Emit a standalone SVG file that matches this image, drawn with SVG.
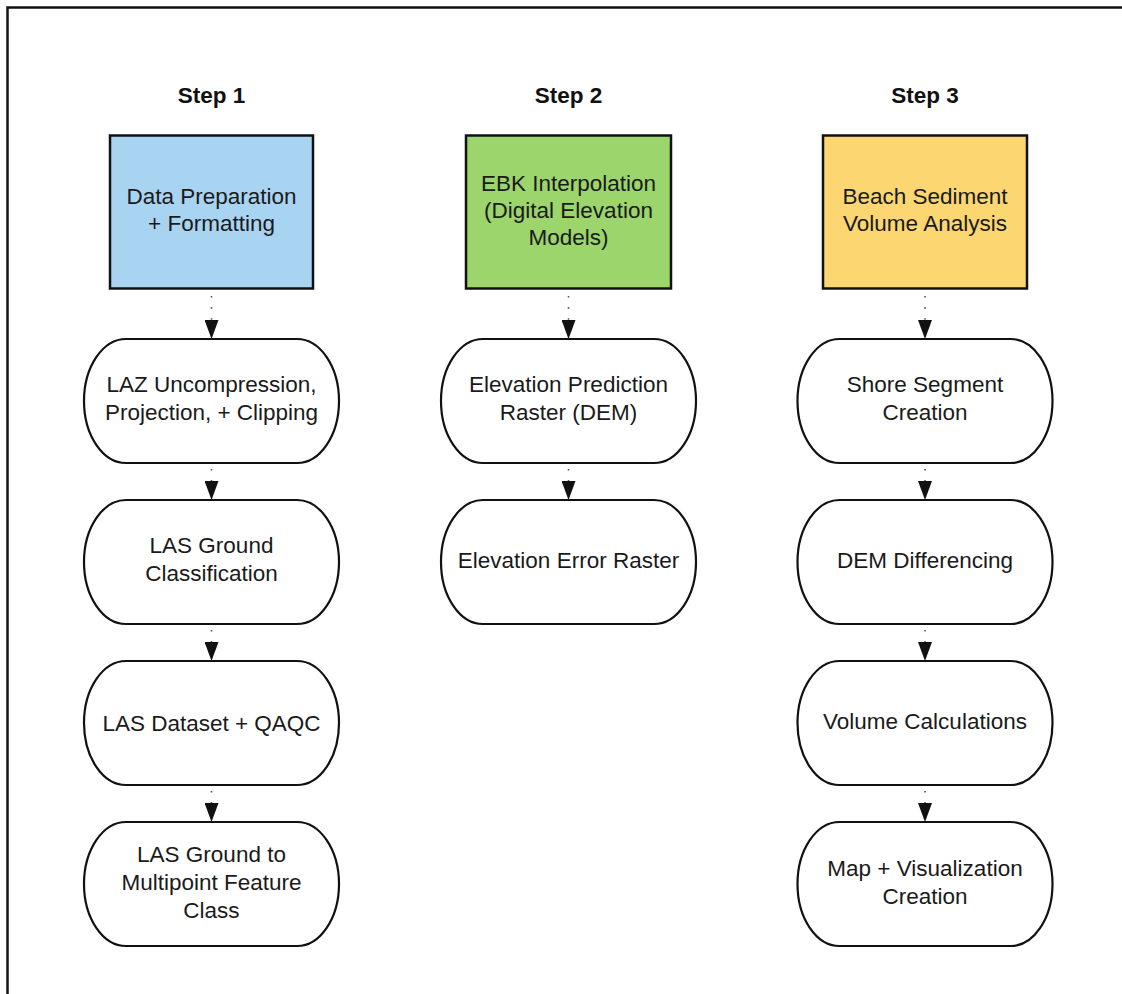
<svg xmlns="http://www.w3.org/2000/svg" width="1122" height="994" viewBox="0 0 1122 994">
<style>
.t{font-family:"Liberation Sans",Arial,sans-serif;font-size:22.5px;fill:#1a1a1a;text-anchor:middle}
.h{font-family:"Liberation Sans",Arial,sans-serif;font-size:22.5px;font-weight:bold;fill:#111;text-anchor:middle}
.box{stroke:#111;stroke-width:2.5}
.pill{fill:#fff;stroke:#111;stroke-width:2.2}
.dot{stroke:#555;stroke-width:1.6;stroke-dasharray:1.6 9.5;fill:none}
</style>
<defs>
<marker id="ah" markerUnits="userSpaceOnUse" markerWidth="20" markerHeight="14" refX="19" refY="7" orient="auto" viewBox="0 0 20 14">
<path d="M0,0 L19,7 L0,14 z" fill="#111"/>
</marker>
</defs>
<rect x="0" y="0" width="1122" height="994" fill="#fff"/>
<rect x="7.5" y="7.5" width="1140" height="1010" fill="none" stroke="#111" stroke-width="2.5"/>

<g id="labels">
<text class="h" x="211.5" y="103">Step 1</text>
<text class="h" x="568.5" y="103">Step 2</text>
<text class="h" x="925" y="103">Step 3</text>
</g>

<g id="n-prep"><rect class="box" x="110" y="135.5" width="203" height="153" fill="#a8d4f2"/>
<text class="t" x="211.5" y="204">Data Preparation</text><text class="t" x="211.5" y="231">+ Formatting</text></g>
<g id="n-ebk"><rect class="box" x="466" y="135.5" width="205" height="153" fill="#9bd56c"/>
<text class="t" x="568.5" y="191">EBK Interpolation</text><text class="t" x="568.5" y="218">(Digital Elevation</text><text class="t" x="568.5" y="245">Models)</text></g>
<g id="n-beach"><rect class="box" x="823" y="135.5" width="204" height="153" fill="#fcd670"/>
<text class="t" x="925" y="204">Beach Sediment</text><text class="t" x="925" y="231">Volume Analysis</text></g>

<g id="n-laz"><rect class="pill" x="84" y="339" width="255" height="124" rx="42" ry="62"/>
<text class="t" x="211.5" y="392">LAZ Uncompression,</text><text class="t" x="211.5" y="420">Projection, + Clipping</text></g>
<g id="n-lasground"><rect class="pill" x="84" y="500" width="255" height="124" rx="42" ry="62"/>
<text class="t" x="211.5" y="553">LAS Ground</text><text class="t" x="211.5" y="581">Classification</text></g>
<g id="n-lasdataset"><rect class="pill" x="84" y="661" width="255" height="124" rx="42" ry="62"/>
<text class="t" x="211.5" y="731">LAS Dataset + QAQC</text></g>
<g id="n-multipoint"><rect class="pill" x="84" y="822" width="255" height="124" rx="42" ry="62"/>
<text class="t" x="211.5" y="862">LAS Ground to</text><text class="t" x="211.5" y="890">Multipoint Feature</text><text class="t" x="211.5" y="918">Class</text></g>

<g id="n-predict"><rect class="pill" x="441" y="339" width="255" height="124" rx="42" ry="62"/>
<text class="t" x="568.5" y="392">Elevation Prediction</text><text class="t" x="568.5" y="420">Raster (DEM)</text></g>
<g id="n-error"><rect class="pill" x="441" y="500" width="255" height="124" rx="42" ry="62"/>
<text class="t" x="568.5" y="568">Elevation Error Raster</text></g>

<g id="n-shore"><rect class="pill" x="797.5" y="339" width="255" height="124" rx="42" ry="62"/>
<text class="t" x="925" y="392">Shore Segment</text><text class="t" x="925" y="420">Creation</text></g>
<g id="n-demdiff"><rect class="pill" x="797.5" y="500" width="255" height="124" rx="42" ry="62"/>
<text class="t" x="925" y="568">DEM Differencing</text></g>
<g id="n-volume"><rect class="pill" x="797.5" y="661" width="255" height="124" rx="42" ry="62"/>
<text class="t" x="925" y="729">Volume Calculations</text></g>
<g id="n-map"><rect class="pill" x="797.5" y="822" width="255" height="124" rx="42" ry="62"/>
<text class="t" x="925" y="876">Map + Visualization</text><text class="t" x="925" y="904">Creation</text></g>

<g id="connectors">
<line class="dot" x1="211.5" y1="296" x2="211.5" y2="339" marker-end="url(#ah)"/>
<line class="dot" x1="211.5" y1="469" x2="211.5" y2="500" marker-end="url(#ah)"/>
<line class="dot" x1="211.5" y1="630" x2="211.5" y2="661" marker-end="url(#ah)"/>
<line class="dot" x1="211.5" y1="791" x2="211.5" y2="822" marker-end="url(#ah)"/>
<line class="dot" x1="568.5" y1="296" x2="568.5" y2="339" marker-end="url(#ah)"/>
<line class="dot" x1="568.5" y1="469" x2="568.5" y2="500" marker-end="url(#ah)"/>
<line class="dot" x1="925" y1="296" x2="925" y2="339" marker-end="url(#ah)"/>
<line class="dot" x1="925" y1="469" x2="925" y2="500" marker-end="url(#ah)"/>
<line class="dot" x1="925" y1="630" x2="925" y2="661" marker-end="url(#ah)"/>
<line class="dot" x1="925" y1="791" x2="925" y2="822" marker-end="url(#ah)"/>
</g>
</svg>
